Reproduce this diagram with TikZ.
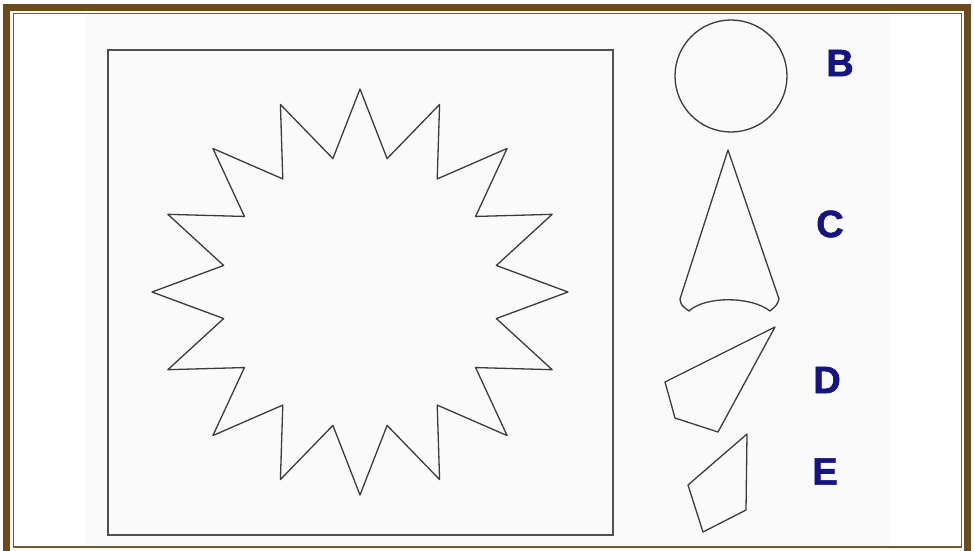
\documentclass[tikz,border=0pt]{standalone}
\usepackage{fontspec}
\setmainfont{Liberation Sans}
\newfontfamily\heavyfont[FakeBold=1.6]{Liberation Sans Bold}
\definecolor{framebrown}{RGB}{108,74,32}
\definecolor{innerbrown}{RGB}{120,88,45}
\definecolor{lblue}{RGB}{22,20,128}
\definecolor{shapegray}{RGB}{60,60,60}
\definecolor{panel}{RGB}{250,250,250}
\begin{document}
\begin{tikzpicture}[x=1pt,y=-1pt,
  shapeline/.style={draw=shapegray,line width=1.3pt,line join=round},
  lbl/.style={font=\fontsize{38}{38}\heavyfont,text=lblue,inner sep=0pt}]
\useasboundingbox (0,0) rectangle (974,550);
\fill[white] (0,0) rectangle (974,550);
% frame
\draw[framebrown,line width=7pt] (6.5,7.3) rectangle (967.5,556);
\draw[innerbrown,line width=1.3pt] (13.3,13.3) rectangle (961.7,547);
\fill[panel] (85,14) rectangle (890,546.3);
% square
\draw[draw=shapegray!90,line width=1.5pt] (108,50) rectangle (613,535);
% star
\draw[shapeline] plot[samples at={0,...,31}] ({360+ifthenelse(mod(\x,2)==0,208,139)*sin(\x*11.25)},{292-ifthenelse(mod(\x,2)==0,203,136)*cos(\x*11.25)}) -- cycle;
% B circle
\draw[shapeline] (731,76) circle[radius=56];
\node[lbl] (B) at (840,63) {B};
% C shape
\draw[shapeline] (728,150) -- (680,299) .. controls (681,305) .. (689,311)
  .. controls (705,296) and (751,296) .. (770,311)
  .. controls (777,305) .. (779,299) -- cycle;
\node[lbl] (C) at (830,224) {C};
% D shape
\draw[shapeline] (775,327) -- (665,382) -- (675,418) -- (718,432) -- cycle;
\node[lbl] (D) at (827,380) {D};
% E shape
\draw[shapeline] (747,434) -- (746,510) -- (703,532) -- (688,485) -- cycle;
\node[lbl] (E) at (825,471.5) {E};
\end{tikzpicture}
\end{document}
